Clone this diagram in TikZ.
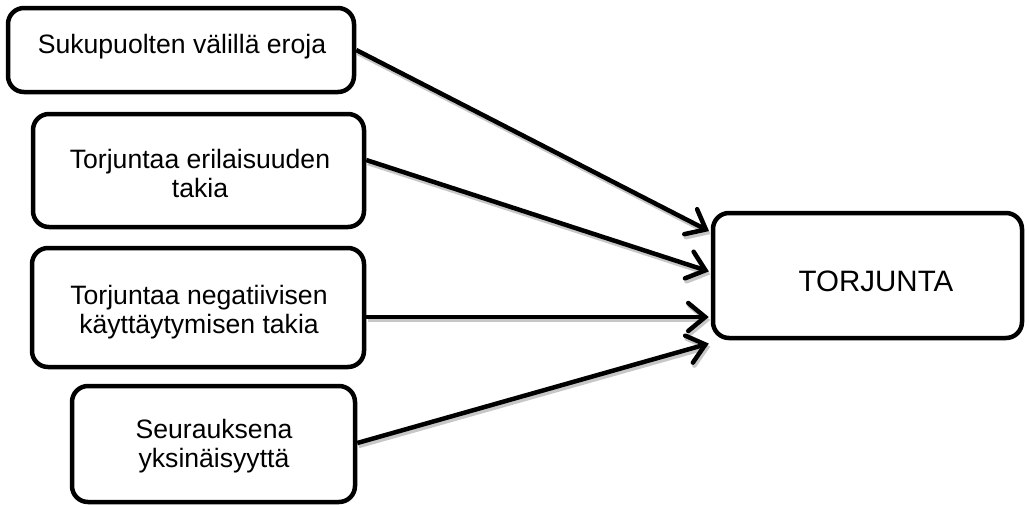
\documentclass[tikz,border=0pt]{standalone}
\usepackage{fontspec}
\setmainfont{Liberation Sans}
\usetikzlibrary{arrows.meta}
\begin{document}
\begin{tikzpicture}[x=1pt,y=-1pt,
  box/.style={draw, line width=4.5pt, rounded corners=16pt, inner sep=0pt},
  txt/.style={inner sep=0pt, align=center, font=\fontsize{26.6}{29}\selectfont},
  conn/.style={line width=4.5pt, shorten >=2pt, -{Straight Barb[length=17pt,width=28pt,line cap=round]}},
  shd/.style={conn, draw=black!22, transform canvas={shift={(1.5pt,-3pt)}}}]
\useasboundingbox (0,0) rectangle (1029,504);
\node[box, minimum width=346pt, minimum height=84pt] (b1) at (181,50) {};
\node[box, minimum width=331pt, minimum height=113pt] (b2) at (198.5,170.5) {};
\node[box, minimum width=332pt, minimum height=119pt] (b3) at (198,307.5) {};
\node[box, minimum width=283pt, minimum height=116pt] (b4) at (213.5,444) {};
\node[box, minimum width=309pt, minimum height=125pt] (bT) at (867.5,275.5) {};
\node[txt] (t1) at (182,46.5) {Sukupuolten välillä eroja};
\node[txt] (t2) at (200,173) {Torjuntaa erilaisuuden\\takia};
\node[txt] (t3) at (199,312) {Torjuntaa negatiivisen\\käyttäytymisen takia};
\node[txt] (t4) at (214,446) {Seurauksena\\yksinäisyyttä};
\node[txt, font=\fontsize{29.5}{33}\selectfont] (tT) at (876,281) {TORJUNTA};
\foreach \s in {shd,conn}{
  \draw[\s] (b1.east) -- ([yshift=43.5pt]bT.west);
  \draw[\s] ([yshift=10.5pt]b2.east) -- ([yshift=3.5pt]bT.west);
  \draw[\s] ([yshift=-9.5pt]b3.east) -- ([yshift=-41.5pt]bT.west);
  \draw[\s] ([yshift=1pt]b4.east) -- ([yshift=-67.5pt]bT.west);
}
\end{tikzpicture}
\end{document}
